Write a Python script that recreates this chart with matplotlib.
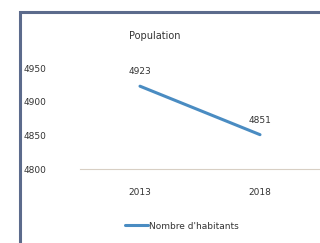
import matplotlib.pyplot as plt
from matplotlib.patches import Rectangle

years = ["2013", "2018"]
habitants = [4923, 4851]
yticks = [4800, 4850, 4900, 4950]

fig = plt.figure(figsize=(3.2, 2.43), dpi=100)
fig.patch.set_facecolor("white")

# frame of the pasted chart (left and top edges visible)
frame = Rectangle((20 / 320, -0.1), 1.2, (243 - 12) / 243 + 0.1,
                  transform=fig.transFigure, fill=False,
                  edgecolor="#5c6b8c", linewidth=2.2)
fig.patches.append(frame)

ax = fig.add_axes([0.25, 0.3045, 0.75, 0.4156])
x = range(len(years))
line, = ax.plot(x, habitants, color="#4a8cc2", linewidth=2.2,
                solid_capstyle="round", label="Nombre d'habitants")
for xi, v in zip(x, habitants):
    ax.annotate(str(v), (xi, v), xytext=(0, 7), textcoords="offset points",
                ha="center", va="bottom", fontsize=6.5, color="#333333")

ax.set_xlim(-0.5, 1.5)
ax.set_ylim(4800, 4950)
ax.set_xticks(list(x))
ax.set_xticklabels(years)
ax.set_yticks(yticks)
ax.tick_params(axis="y", length=0, pad=24, labelsize=6.5, labelcolor="#333333")
ax.tick_params(axis="x", length=0, pad=14, labelsize=6.5, labelcolor="#333333")
for side in ["top", "right", "left"]:
    ax.spines[side].set_visible(False)
ax.spines["bottom"].set_color("#d8cfc4")
ax.spines["bottom"].set_linewidth(0.8)
ax.set_facecolor("none")

fig.text(155 / 320, 1 - 36 / 243, "Population", ha="center", va="center",
         fontsize=7, color="#333333")

fig.legend(handles=[line], loc="center", bbox_to_anchor=(182 / 320, 1 - 226 / 243),
           frameon=False, fontsize=6.5, handlelength=2.5, handletextpad=0.2,
           labelcolor="#333333")

fig.savefig("out.png", dpi=100)
